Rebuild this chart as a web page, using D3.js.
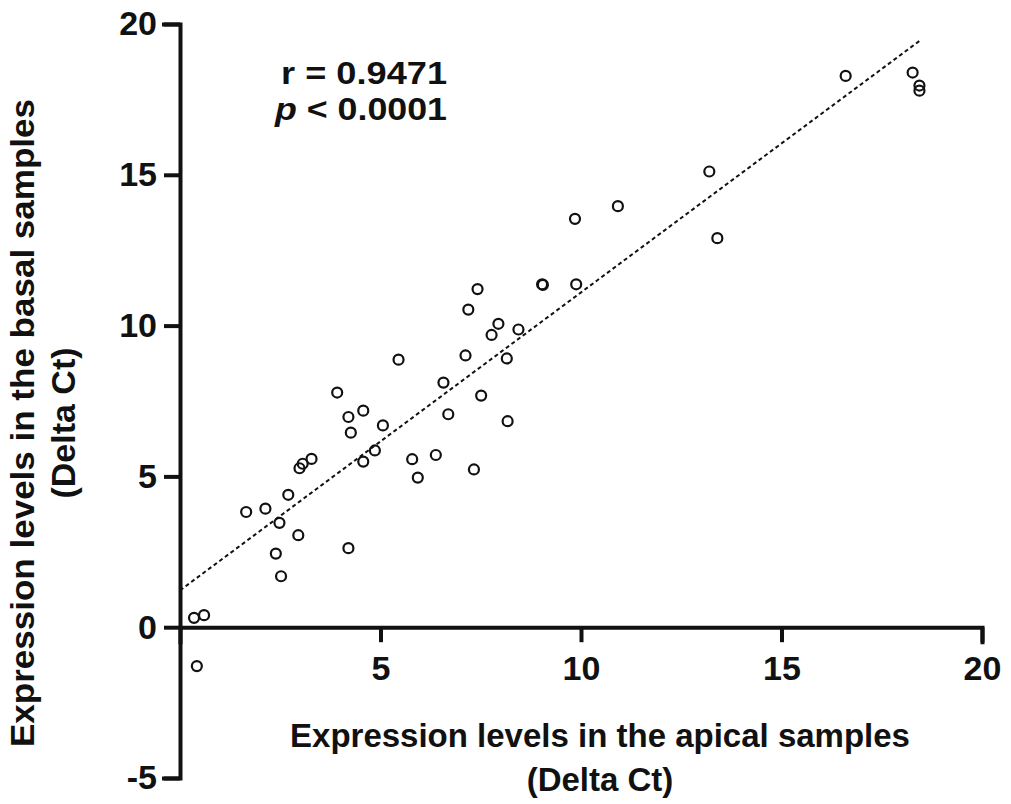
<!DOCTYPE html>
<html lang="en">
<head>
    <meta charset="utf-8">
    <title>Apical vs basal expression</title>
    <script src="https://d3js.org/d3.v7.min.js"></script>
    <style>
        body { margin: 0; background: #fff; }
        #chart text { font-family: "Liberation Sans", Arial, sans-serif; font-weight: bold; fill: #111; }
    </style>
</head>
<body>
<div id="chart"></div>
<script>

// apical / basal Delta Ct pairs
var apical = [0.35, 0.60, 0.42, 1.65, 2.13, 2.48, 2.70, 2.39, 2.52, 2.95,
              2.98, 3.06, 3.28, 4.20, 3.92, 4.20, 4.26, 4.57, 4.57, 4.86,
              5.06, 5.45, 5.79, 5.93, 6.38, 6.69, 6.57, 7.12, 7.42, 7.19,
              7.51, 7.33, 7.77, 7.94, 8.44, 8.15, 8.17, 9.03, 9.05, 9.88,
              9.85, 10.92, 13.20, 13.40, 16.60, 18.27, 18.44, 18.44];
var basal  = [0.31, 0.40, -1.29, 3.82, 3.93, 3.46, 4.39, 2.44, 1.69, 3.05,
              5.27, 5.42, 5.58, 2.62, 7.78, 6.97, 6.45, 7.18, 5.49, 5.86,
              6.69, 8.87, 5.57, 4.96, 5.71, 7.06, 8.11, 9.01, 11.21, 10.53,
              7.68, 5.23, 9.69, 10.06, 9.87, 8.91, 6.83, 11.37, 11.35, 11.37,
              13.54, 13.96, 15.11, 12.90, 18.28, 18.39, 17.96, 17.79];

// fitted line as drawn in the figure
var fitIntercept = 1.22;
var fitSlope = 0.988;

var xTicks = [5, 10, 15, 20];
var yTicks = [-5, 0, 5, 10, 15, 20];
var statLines = ["r = 0.9471", "< 0.0001"];

var points = apical.map(function(a, i) { return {x: a, y: basal[i]}; });

var W = 1011, H = 804;

var svg = d3.select("#chart").append("svg")
    .attr("width", W)
    .attr("height", H);

var x = d3.scaleLinear().domain([0, 20]).range([180, 982]);
var y = d3.scaleLinear().domain([-5, 20]).range([778, 24]);

var plainFmt = function(d) { return String(d); };  // keep the hyphen for -5

// y axis
var yAxis = svg.append("g")
    .attr("transform", "translate(" + x(0) + ",0)")
    .call(d3.axisLeft(y).tickValues(yTicks).tickFormat(plainFmt).tickSize(16).tickPadding(7));

// x axis sits on y = 0
var xAxis = svg.append("g")
    .attr("transform", "translate(0," + y(0) + ")")
    .call(d3.axisBottom(x).tickValues(xTicks).tickFormat(plainFmt).tickSize(15).tickPadding(14));

[yAxis, xAxis].forEach(function(g) {
    g.select(".domain").attr("stroke", "#111").attr("stroke-width", 4)
        .attr("stroke-linecap", "square").attr("stroke-linejoin", "miter");
    g.selectAll(".tick line").attr("stroke", "#111").attr("stroke-width", 4);
    g.selectAll(".tick text").style("font-size", "34px");
});
xAxis.selectAll(".tick text").attr("dy", "0.71em");

// regression line
var xMax = d3.max(apical);
svg.append("line")
    .attr("x1", x(0))
    .attr("y1", y(fitIntercept))
    .attr("x2", x(xMax))
    .attr("y2", y(fitIntercept + fitSlope * xMax))
    .attr("stroke", "#111")
    .attr("stroke-width", 2)
    .attr("stroke-dasharray", "4,3");

// points
svg.selectAll("circle.pt")
    .data(points)
    .enter()
    .append("circle")
      .attr("class", "pt")
      .attr("cx", function(d) { return x(d.x); })
      .attr("cy", function(d) { return y(d.y); })
      .attr("r", 5)
      .attr("fill", "none")
      .attr("stroke", "#111")
      .attr("stroke-width", 2.2);

// stats annotation
svg.append("text")
    .attr("x", 447).attr("y", 84)
    .attr("text-anchor", "end")
    .attr("textLength", 166)
    .attr("lengthAdjust", "spacingAndGlyphs")
    .style("font-size", "32px")
    .text(statLines[0]);

var pLine = svg.append("text")
    .attr("x", 447).attr("y", 120)
    .attr("text-anchor", "end")
    .attr("textLength", 172)
    .attr("lengthAdjust", "spacingAndGlyphs")
    .style("font-size", "32px");
pLine.append("tspan").style("font-style", "italic").text("p");
pLine.append("tspan").text(" " + statLines[1]);

// axis titles
svg.append("text")
    .attr("x", 600).attr("y", 747)
    .attr("text-anchor", "middle")
    .style("font-size", "33px")
    .text("Expression levels in the apical samples");
svg.append("text")
    .attr("x", 600).attr("y", 791)
    .attr("text-anchor", "middle")
    .style("font-size", "33px")
    .text("(Delta Ct)");

svg.append("text")
    .attr("transform", "translate(34,423)rotate(-90)")
    .attr("text-anchor", "middle")
    .attr("textLength", 648)
    .attr("lengthAdjust", "spacingAndGlyphs")
    .style("font-size", "34px")
    .text("Expression levels in the basal samples");
svg.append("text")
    .attr("transform", "translate(75,423)rotate(-90)")
    .attr("text-anchor", "middle")
    .style("font-size", "34px")
    .text("(Delta Ct)");

</script>
</body>
</html>
